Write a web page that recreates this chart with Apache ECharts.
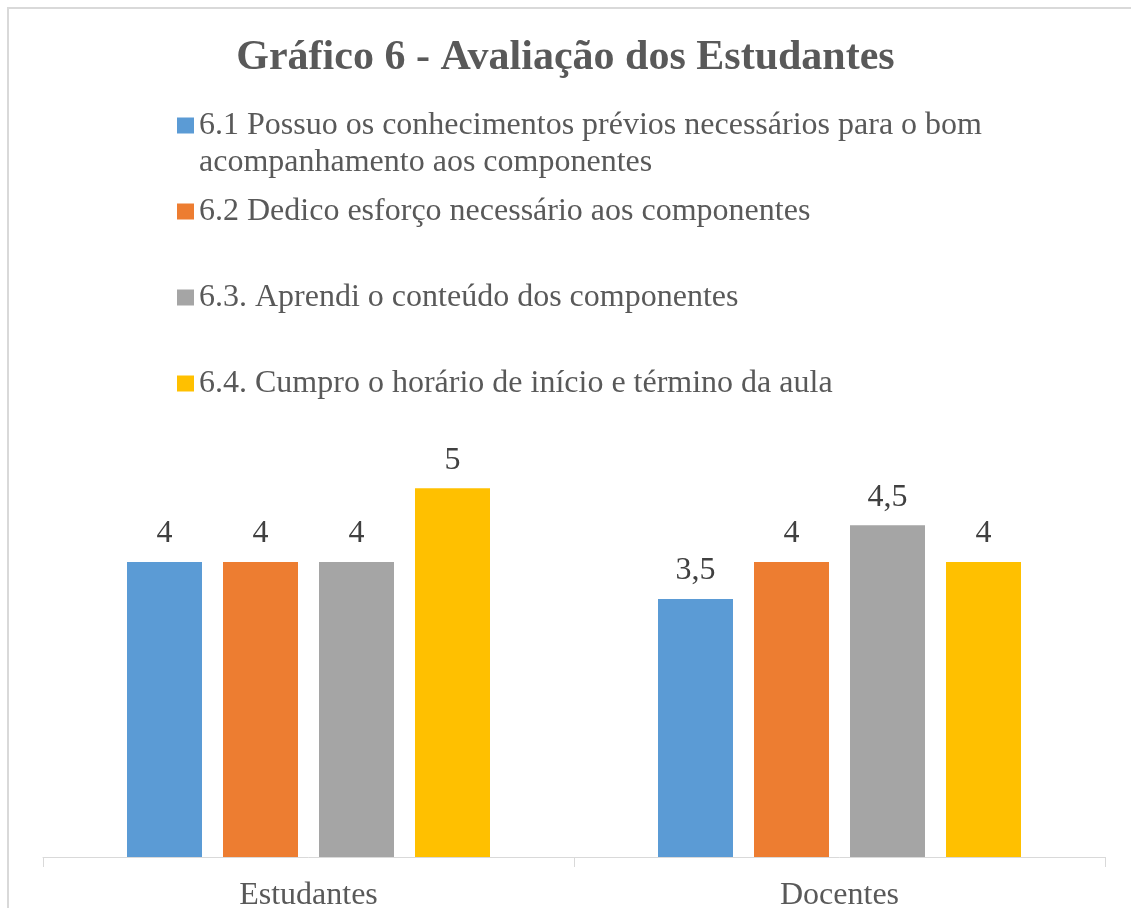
<!DOCTYPE html>
<html lang="pt">
  <head>
    <meta charset="UTF-8" />
    <title>Gráfico 6</title>
    <script src="https://cdn.jsdelivr.net/npm/echarts@6/dist/echarts.min.js"></script>
    <style>
      html, body { margin: 0; padding: 0; background: #fff; }
      #chart { width: 1131px; height: 908px; }
    </style>
  </head>
  <body>
    <div id="chart"></div>
    <script>
      var categories = ["Estudantes", "Docentes"];
      var seriesNames = [
        "6.1 Possuo os conhecimentos prévios necessários para o bom acompanhamento aos componentes",
        "6.2 Dedico esforço necessário aos componentes",
        "6.3. Aprendi o conteúdo dos componentes",
        "6.4. Cumpro o horário de início e término da aula",
      ];
      var values61 = [4, 3.5];
      var values62 = [4, 4];
      var values63 = [4, 4.5];
      var values64 = [5, 4];
      var colors = ["#5b9bd5", "#ed7d31", "#a5a5a5", "#ffc000"];

      var font = "'Liberation Serif', 'Times New Roman', serif";
      var textColor = "#595959";

      var chart = echarts.init(document.getElementById("chart"));

      // one legend per item so the spacing matches the original
      var legendTops = [70, 193, 279, 365];
      var legends = seriesNames.map(function (name, i) {
        return {
          data: [name],
          orient: "vertical",
          left: 177,
          top: legendTops[i],
          padding: 0,
          icon: "rect",
          itemWidth: 17,
          itemHeight: 16,
          selectedMode: false,
          formatter: function (n) {
            if (n === seriesNames[0]) {
              // empty first line keeps the icon next to the first text line
              return "\n6.1 Possuo os conhecimentos prévios necessários para o bom\nacompanhamento aos componentes";
            }
            return n;
          },
          textStyle: {
            fontFamily: font,
            fontSize: 32,
            lineHeight: 37,
            color: textColor,
          },
        };
      });

      var labelOpt = {
        show: true,
        position: "top",
        distance: 12,
        fontFamily: font,
        fontSize: 32,
        color: "#404040",
        formatter: function (p) {
          return String(p.value).replace(".", ",");
        },
      };

      var allValues = [values61, values62, values63, values64];

      chart.setOption({
        animation: false,
        title: {
          text: "Gráfico 6 - Avaliação dos Estudantes",
          left: "center",
          top: 32,
          textStyle: {
            fontFamily: font,
            fontWeight: "bold",
            fontSize: 42,
            color: textColor,
          },
        },
        legend: legends,
        graphic: [
          {
            type: "rect",
            shape: { x: 8, y: 8, width: 1300, height: 1000 },
            style: { fill: "none", stroke: "#d9d9d9", lineWidth: 2 },
            silent: true,
          },
        ],
        grid: {
          left: 43,
          right: 26,
          top: 414.5,
          bottom: 51,
          containLabel: false,
          outerBoundsMode: "none",
        },
        xAxis: {
          type: "category",
          data: categories,
          axisLine: { lineStyle: { color: "#d9d9d9", width: 1 } },
          axisTick: { show: true, length: 10, lineStyle: { color: "#d9d9d9" } },
          axisLabel: {
            margin: 23,
            fontFamily: font,
            fontSize: 32,
            color: textColor,
          },
        },
        yAxis: {
          type: "value",
          min: 0,
          max: 6,
          show: false,
          splitLine: { show: false },
        },
        series: allValues.map(function (vals, i) {
          return {
            type: "bar",
            name: seriesNames[i],
            data: vals,
            barWidth: 75,
            barGap: "28%",
            itemStyle: { color: colors[i] },
            label: labelOpt,
          };
        }),
      });
    </script>
  </body>
</html>
